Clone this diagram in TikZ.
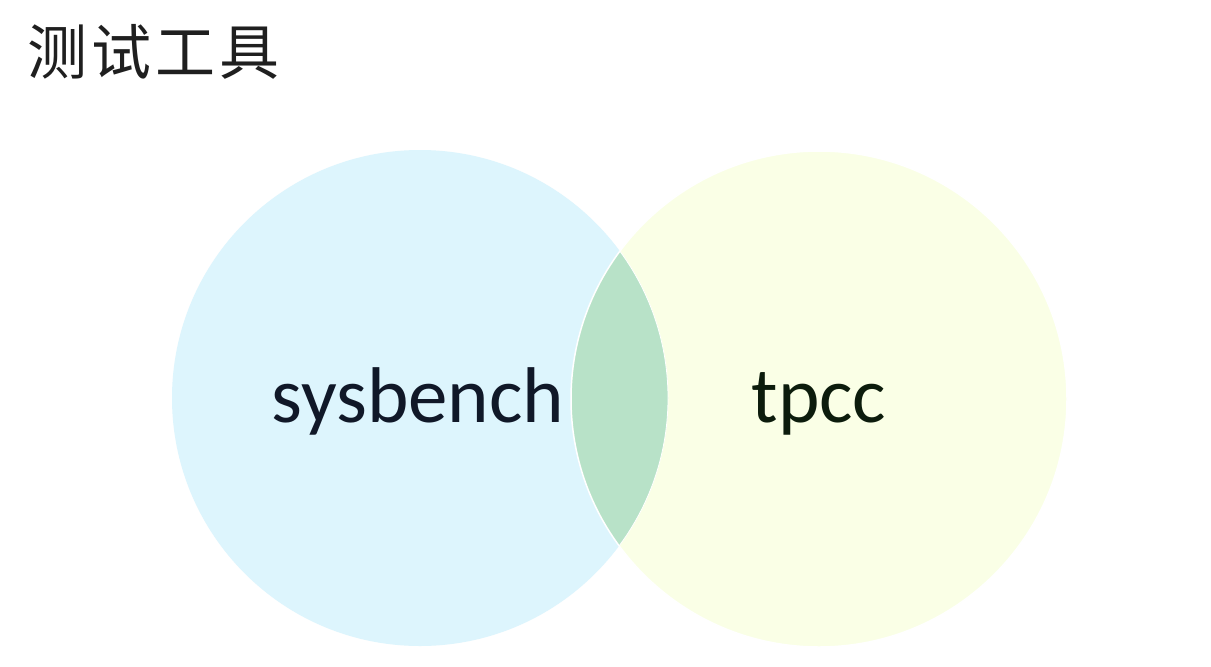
\documentclass[tikz,border=0pt]{standalone}
\usepackage{fontspec}
\setmainfont{Carlito}
\newfontfamily\cjk{Noto Sans CJK SC}
\definecolor{leftfill}{RGB}{221,245,253}
\definecolor{rightfill}{RGB}{250,255,230}
\definecolor{lensfill}{RGB}{184,226,200}
\definecolor{lbltext}{RGB}{16,24,40}
\definecolor{rbltext}{RGB}{12,28,12}
\begin{document}
\begin{tikzpicture}[x=1pt,y=-1pt,
  biglabel/.style={font=\fontsize{79}{82}\selectfont, inner sep=0pt, anchor=base},
  titlelabel/.style={font=\cjk\fontsize{60}{64}\selectfont, inner sep=0pt, anchor=base west, text=black!88}]
\useasboundingbox (0,0) rectangle (1211,667);
\fill[white] (0,0) rectangle (1211,667);
\coordinate (cl) at (420,398);
\coordinate (cr) at (819,399);
\fill[leftfill] (cl) circle (248);
\fill[rightfill] (cr) circle (248);
\begin{scope}
  \clip (cl) circle (248);
  \fill[lensfill] (cr) circle (248);
\end{scope}
\draw[white, line width=1.5pt] (cr) circle (248);
\begin{scope}
  \clip (cr) circle (248);
  \draw[white, line width=0.8pt] (cl) circle (248);
\end{scope}
\node[biglabel, text=lbltext] (sys) at (418,422) {sysbench};
\node[biglabel, text=rbltext] (tpcc) at (819,422) {tpcc};
\node[titlelabel] (title) at (27,74) {测\kern4pt 试\kern4pt 工\kern4pt 具};
\end{tikzpicture}
\end{document}
